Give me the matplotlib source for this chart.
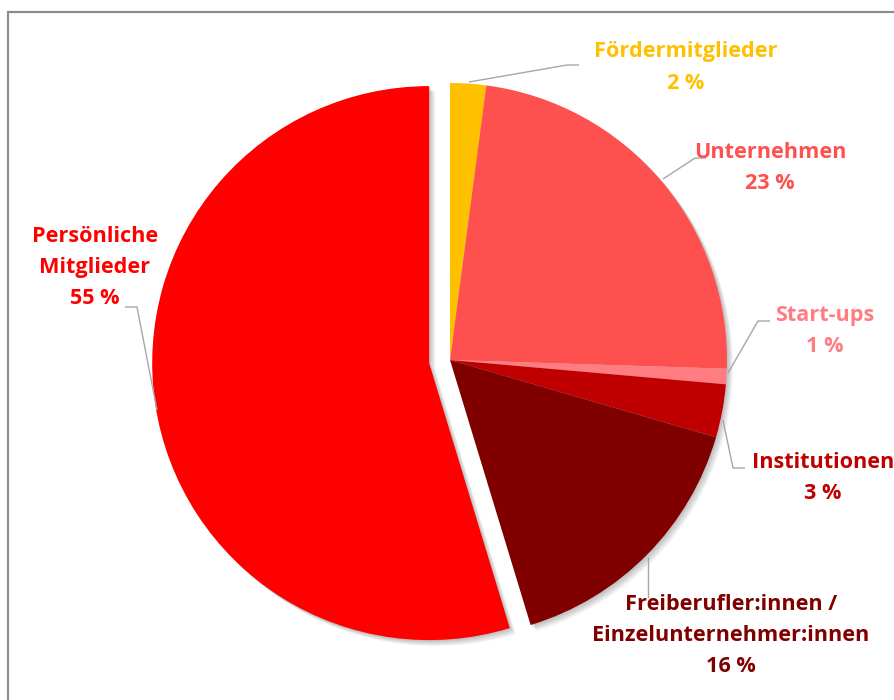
"""Mitgliederstruktur as an exploded pie chart with outside labels."""

import matplotlib

matplotlib.use("Agg")
import matplotlib.pyplot as plt
from matplotlib.patches import Rectangle

labels = ["Fördermitglieder", "Unternehmen", "Start-ups", "Institutionen",
          "Freiberufler:innen /\nEinzelunternehmer:innen", "Persönliche\nMitglieder"]
shares = [2.1, 23.4, 0.9, 3.1, 15.8, 54.7]
pct_labels = ["2 %", "23 %", "1 %", "3 %", "16 %", "55 %"]
colors = ["#FFC000", "#FF5050", "#FF7C80", "#C00000", "#800000", "#FF0000"]
text_colors = ["#FFC000", "#FF5050", "#FF7C80", "#C00000", "#800000", "#FF0000"]
explode = [0, 0, 0, 0, 0, 0.076]

W, H = 894, 700
CX, CY, R = 450, H - 360, 277


def main():
    fig = plt.figure(figsize=(W / 100, H / 100), dpi=100)
    ax = fig.add_axes([0, 0, 1, 1])
    expl = [e * R for e in explode]  # pie() takes explode in data units

    # soft drop shadow
    for k in range(1, 7):
        sh, _ = ax.pie(shares, explode=expl, radius=R, center=(CX + k, CY - k),
                       startangle=90, counterclock=False,
                       colors=["#000000"] * len(shares), frame=True)
        for w in sh:
            w.set_alpha(0.045)
            w.set_zorder(1)

    wedges, _ = ax.pie(shares, explode=expl, radius=R, center=(CX, CY),
                       startangle=90, counterclock=False, colors=colors, frame=True)
    for w in wedges:
        w.set_zorder(2)

    ax.set_xlim(0, W)
    ax.set_ylim(0, H)
    ax.set_aspect("equal")
    ax.axis("off")

    # outer frame
    fig.patches.append(Rectangle((8 / W, -0.1), 2, (H - 12) / H + 0.1,
                                 transform=fig.transFigure, fill=False,
                                 edgecolor="#8c8c8c", linewidth=1.6))

    # leader lines (pixel coords, y from top)
    leaders = [
        [(469, 82), (567, 65), (579, 65)],
        [(663, 179), (695, 158), (706, 158)],
        [(728, 373), (758, 321), (770, 321)],
        [(723, 420), (733, 468), (745, 468)],
        [(648, 557), (648, 598)],
        [(157, 410), (137, 307), (125, 307)],
    ]
    for pts in leaders:
        xs = [p[0] for p in pts]
        ys = [H - p[1] for p in pts]
        ax.plot(xs, ys, color="#a6a6a6", lw=1.0, zorder=3, solid_capstyle="butt")

    # label anchors: centre x, y of first line
    anchors = [(686, 52), (770, 152), (825, 315), (823, 462), (731, 604), (95, 236)]
    font = dict(family=["Open Sans", "DejaVu Sans"], fontweight="bold", fontsize=15.6)
    for lab, pct, col, (x, y) in zip(labels, pct_labels, text_colors, anchors):
        lines = lab.split("\n") + [pct]
        for i, line in enumerate(lines):
            ax.text(x, H - (y + 31.5 * i), line, color=col, ha="center", va="center",
                    zorder=4, **font)

    plt.savefig("out.png", dpi=100)


if __name__ == "__main__":
    main()
